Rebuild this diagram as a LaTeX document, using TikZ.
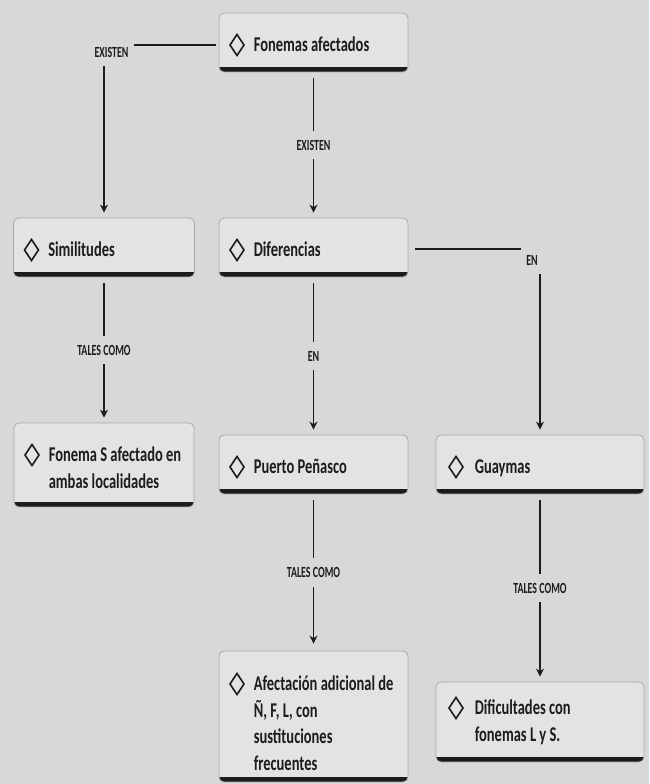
\documentclass[tikz,border=0pt]{standalone}
\usepackage{fontspec}
\setmainfont{Carlito}[FakeStretch=0.69]
\newfontfamily\tagfont{Carlito}[FakeStretch=0.64]
\usetikzlibrary{calc,arrows.meta}

\definecolor{pagebg}{HTML}{D8D8DA}
\definecolor{cardfill}{HTML}{E3E3E5}
\definecolor{cardline}{HTML}{A9A9AB}
\definecolor{ink}{HTML}{1C1C1C}

\begin{document}
\begin{tikzpicture}[x=1pt,y=-1pt,
  % card: #1 = baseline offset of the first text line, #2 = x offset of the diamond
  cardbox/.style 2 args={draw=cardline, line width=0.8pt, fill=cardfill,
    rounded corners=5pt, inner sep=0pt,
    path picture={
      \fill[ink, sharp corners] ($(path picture bounding box.south west)+(0,-5)$)
        rectangle (path picture bounding box.south east);
      \draw[ink, line width=1.6pt, sharp corners, line join=miter]
        ($(path picture bounding box.north west)+(#2,#1-17.5)$)
        -- ++(7,10.5) -- ++(-7,10.5) -- ++(-7,-10.5) -- cycle;
    }},
  cardtext/.style={anchor=base west, inner sep=0pt, text width=#1, align=flush left,
    text=ink, font=\bfseries\fontsize{21}{26.5}\selectfont},
  link/.style={draw=ink, line width=1.5pt},
  tip/.style={-{Stealth[length=8pt,width=8pt]}},
  tag/.style={inner xsep=5pt, inner ysep=9pt, text=ink,
    font=\tagfont\bfseries\fontsize{15.5}{15.5}\selectfont}
]
\fill[pagebg] (0,0) rectangle (649,784);
\useasboundingbox (0,0) rectangle (649,784);

% cards
\node[cardbox={39}{18}, minimum width=189pt, minimum height=59pt] (fon) at (313.5,42.5) {};
\node[cardtext=150pt] (fonT) at ($(fon.north west)+(35,39)$) {Fonemas afectados};

\node[cardbox={39}{18}, minimum width=181pt, minimum height=59pt] (sim) at (104,247.5) {};
\node[cardtext=140pt] (simT) at ($(sim.north west)+(35,39)$) {Similitudes};

\node[cardbox={39}{18}, minimum width=189pt, minimum height=59pt] (dif) at (313.5,247.5) {};
\node[cardtext=150pt] (difT) at ($(dif.north west)+(35,39)$) {Diferencias};

\node[cardbox={39}{18}, minimum width=180pt, minimum height=84pt] (fs) at (104,465) {};
\node[cardtext=140pt] (fsT) at ($(fs.north west)+(35,39)$) {Fonema S afectado en\\ambas localidades};

\node[cardbox={39}{18}, minimum width=189pt, minimum height=59pt] (pp) at (313.5,464.5) {};
\node[cardtext=150pt] (ppT) at ($(pp.north west)+(35,39)$) {Puerto Peñasco};

\node[cardbox={39}{20}, minimum width=208pt, minimum height=59pt] (gu) at (540,464.5) {};
\node[cardtext=160pt] (guT) at ($(gu.north west)+(39,39)$) {Guaymas};

\node[cardbox={40}{18}, minimum width=189pt, minimum height=131pt] (af) at (313.5,716.5) {};
\node[cardtext=150pt] (afT) at ($(af.north west)+(35,40)$) {Afectación adicional de\\Ñ, F, L, con\\sustituciones\\frecuentes};

\node[cardbox={33}{20}, minimum width=208pt, minimum height=80pt] (di) at (540,722) {};
\node[cardtext=160pt] (diT) at ($(di.north west)+(39,33)$) {Dificultades con\\fonemas L y S.};

% connector labels
\node[tag] (l1) at (111.5,52) {EXISTEN};
\node[tag] (l2) at ($(fon.south)!0.5!(dif.north)$) {EXISTEN};
\node[tag] (l3) at ($(sim.south)!0.5!(fs.north)$) {TALES COMO};
\node[tag] (l4) at ($(dif.south)!0.5!(pp.north)$) {EN};
\node[tag] (l5) at (532,260) {EN};
\node[tag] (l6) at ($(pp.south)!0.5!(af.north)$) {TALES COMO};
\node[tag] (l7) at ($(gu.south)!0.5!(di.north)$) {TALES COMO};

% connectors
\coordinate (fonL) at ($(fon.west)+(0,2.5)$);
\draw[link, shorten <=3pt] (fonL) -- (l1.east |- fonL);
\draw[link, tip, shorten >=5pt] (l1.south -| sim.north) -- (sim.north);

\draw[link, shorten <=6pt] (fon.south) -- (l2.north);
\draw[link, tip, shorten >=5pt] (l2.south) -- (dif.north);

\draw[link, shorten <=6pt] (sim.south) -- (l3.north);
\draw[link, tip, shorten >=5pt] (l3.south) -- (fs.north);

\draw[link, shorten <=6pt] (dif.south) -- (l4.north);
\draw[link, tip, shorten >=5pt] (l4.south) -- (pp.north);

\coordinate (difR) at ($(dif.east)+(0,1.5)$);
\draw[link, shorten <=7pt] (difR) -- (l5.west |- difR);
\draw[link, tip, shorten >=5pt] (l5.south -| gu.north) -- (gu.north);

\draw[link, shorten <=6pt] (pp.south) -- (l6.north);
\draw[link, tip, shorten >=7pt] (l6.south) -- (af.north);

\draw[link, shorten <=6pt] (gu.south) -- (l7.north);
\draw[link, tip, shorten >=5pt] (l7.south) -- (di.north);
\end{tikzpicture}
\end{document}
